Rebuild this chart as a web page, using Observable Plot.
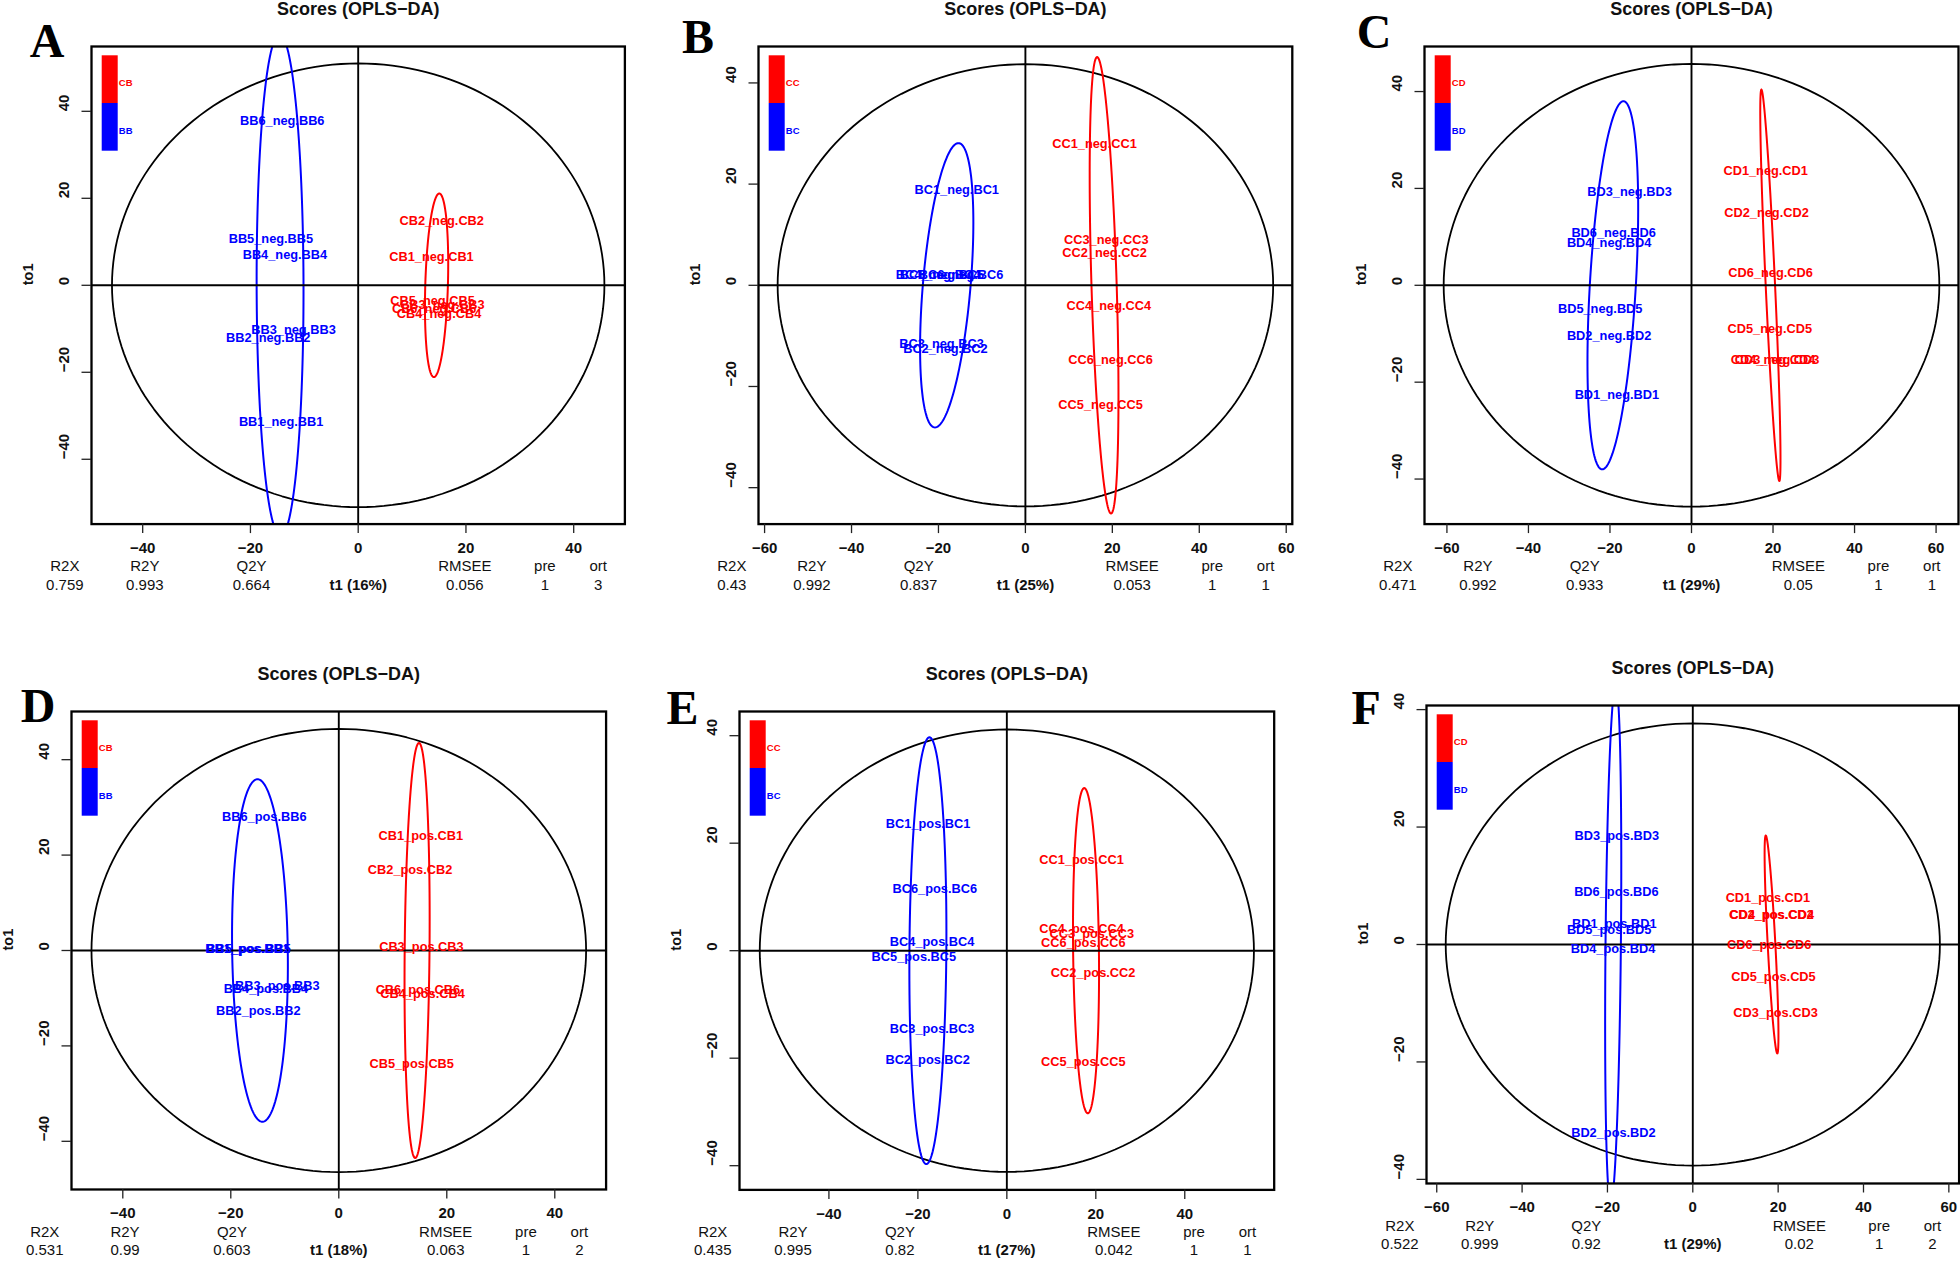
<!DOCTYPE html>
<html><head><meta charset="utf-8">
<script src="https://cdn.jsdelivr.net/npm/d3@7"></script>
<script src="https://cdn.jsdelivr.net/npm/@observablehq/plot@0.6"></script>
<style>
body{margin:0;background:#fff;}
#root{position:relative;width:1960px;height:1263px;overflow:hidden;background:#fff;}
.panel{position:absolute;}
</style></head><body><div id="root"></div>
<script>
// ---------------- DATA ----------------
const panelIds = ["A","B","C","D","E","F"];
const titleText = "Scores (OPLS\u2212DA)";
const statHeaders = ["R2X","R2Y","Q2Y","","RMSEE","pre","ort"];

// Panel A
const labelsA = ["BB1_neg.BB1","BB2_neg.BB2","BB3_neg.BB3","BB4_neg.BB4","BB5_neg.BB5","BB6_neg.BB6","CB1_neg.CB1","CB2_neg.CB2","CB3_neg.CB3","CB4_neg.CB4","CB5_neg.CB5","CB6_neg.CB6"];
const t1A  = [-14.3,-16.7,-12.0,-13.6,-16.2,-14.1, 13.6,15.5,15.6,15.0,13.8,14.1];
const to1A = [-31.4,-12.0,-10.2,6.9,10.6,37.8, 6.5,14.9,-4.4,-6.5,-3.6,-5.5];
const groupsA = ["CB","BB"];
const statsA = ["0.759","0.993","0.664","t1 (16%)","0.056","1","3"];
const xDomA = [-49.5,49.5], yDomA = [-54.9,54.9];
const xTicksA = [-40,-20,0,20,40], yTicksA = [-40,-20,0,20,40];
const ellCxA = [0,14.55,-14.5], ellUxA = [0,0.5,-0.1], ellUyA = [51.0,21.1,57.7], ellHwA = [45.7,2.1,4.35];

// Panel B
const labelsB = ["BC1_neg.BC1","BC2_neg.BC2","BC3_neg.BC3","BC4_neg.BC4","BC5_neg.BC5","BC6_neg.BC6","CC1_neg.CC1","CC2_neg.CC2","CC3_neg.CC3","CC4_neg.CC4","CC5_neg.CC5","CC6_neg.CC6"];
const t1B  = [-15.8,-18.4,-19.3,-20.1,-19.2,-14.8, 15.9,18.2,18.6,19.2,17.3,19.6];
const to1B = [18.9,-12.5,-11.5,2.0,2.1,2.0, 27.9,6.4,8.9,-4.0,-23.6,-14.7];
const groupsB = ["CC","BC"];
const statsB = ["0.43","0.992","0.837","t1 (25%)","0.053","1","1"];
const xDomB = [-61.4,61.4], yDomB = [-47.2,47.2];
const xTicksB = [-60,-40,-20,0,20,40,60], yTicksB = [-40,-20,0,20,40];
const ellCxB = [0,18.1,-18.1], ellUxB = [0,-1.6,2.7], ellUyB = [43.7,45.1,28.1], ellHwB = [57.0,2.9,5.5];

// Panel C
const labelsC = ["BD1_neg.BD1","BD2_neg.BD2","BD3_neg.BD3","BD4_neg.BD4","BD5_neg.BD5","BD6_neg.BD6","CD1_neg.CD1","CD2_neg.CD2","CD3_neg.CD3","CD4_neg.CD4","CD5_neg.CD5","CD6_neg.CD6"];
const t1C  = [-18.3,-20.2,-15.2,-20.2,-22.4,-19.1, 18.2,18.4,21.0,20.0,19.2,19.4];
const to1C = [-22.6,-10.5,19.2,8.7,-4.8,10.9, 23.6,15.0,-15.5,-15.5,-9.1,2.6];
const groupsC = ["CD","BD"];
const statsC = ["0.471","0.992","0.933","t1 (29%)","0.05","1","1"];
const xDomC = [-65.5,65.5], yDomC = [-49.3,49.3];
const xTicksC = [-60,-40,-20,0,20,40,60], yTicksC = [-40,-20,0,20,40];
const ellCxC = [0,19.35,-19.3], ellUxC = [0,-2.2,2.6], ellUyC = [45.7,40.4,38.0], ellHwC = [60.8,1.15,5.65];

// Panel D
const labelsD = ["BB1_pos.BB1","BB2_pos.BB2","BB3_pos.BB3","BB4_pos.BB4","BB5_pos.BB5","BB6_pos.BB6","CB1_pos.CB1","CB2_pos.CB2","CB3_pos.CB3","CB4_pos.CB4","CB5_pos.CB5","CB6_pos.CB6"];
const t1D  = [-16.9,-14.9,-11.4,-13.5,-16.7,-13.8, 15.2,13.2,15.3,15.5,13.5,14.65];
const to1D = [0.4,-12.7,-7.5,-8.1,0.3,28.1, 24.0,17.0,0.8,-9.2,-23.7,-8.2];
const groupsD = ["CB","BB"];
const statsD = ["0.531","0.99","0.603","t1 (18%)","0.063","1","2"];
const xDomD = [-49.5,49.5], yDomD = [-50.1,50.1];
const xTicksD = [-40,-20,0,20,40], yTicksD = [-40,-20,0,20,40];
const ellCxD = [0,14.5,-14.6], ellUxD = [0,0.35,-0.45], ellUyD = [46.45,43.5,35.9], ellHwD = [45.8,2.3,5.15];

// Panel E
const labelsE = ["BC1_pos.BC1","BC2_pos.BC2","BC3_pos.BC3","BC4_pos.BC4","BC5_pos.BC5","BC6_pos.BC6","CC1_pos.CC1","CC2_pos.CC2","CC3_pos.CC3","CC4_pos.CC4","CC5_pos.CC5","CC6_pos.CC6"];
const t1E  = [-17.7,-17.8,-16.8,-16.8,-20.9,-16.2, 16.8,19.4,19.1,16.8,17.2,17.2];
const to1E = [23.5,-20.4,-14.5,1.65,-1.1,11.5, 16.9,-4.2,3.2,4.0,-20.75,1.5];
const groupsE = ["CC","BC"];
const statsE = ["0.435","0.995","0.82","t1 (27%)","0.042","1","1"];
const xDomE = [-60.1,60.1], yDomE = [-44.5,44.5];
const xTicksE = [-40,-20,0,20,40], yTicksE = [-40,-20,0,20,40];
const ellCxE = [0,17.8,-17.75], ellUxE = [0,-0.4,0.35], ellUyE = [41.15,30.25,39.7], ellHwE = [55.55,2.9,4.15];

// Panel F
const labelsF = ["BD1_pos.BD1","BD2_pos.BD2","BD3_pos.BD3","BD4_pos.BD4","BD5_pos.BD5","BD6_pos.BD6","CD1_pos.CD1","CD2_pos.CD2","CD3_pos.CD3","CD4_pos.CD4","CD5_pos.CD5","CD6_pos.CD6"];
const t1F  = [-18.4,-18.6,-17.8,-18.7,-19.6,-17.9, 17.6,18.4,19.4,18.5,18.9,17.9];
const to1F = [3.5,-32.0,18.5,-0.7,2.5,8.9, 7.9,5.1,-11.7,5.0,-5.6,-0.1];
const groupsF = ["CD","BD"];
const statsF = ["0.522","0.999","0.92","t1 (29%)","0.02","1","2"];
const xDomF = [-62.4,62.4], yDomF = [-40.7,40.7];
const xTicksF = [-60,-40,-20,0,20,40,60], yTicksF = [-40,-20,0,20,40];
const ellCxF = [0,18.45,-18.65], ellUxF = [0,-1.35,0.58], ellUyF = [37.65,18.55,44.1], ellHwF = [57.9,0.9,1.8];

// ---------------- LAYOUT / STYLE ----------------
const RED = "#ff0000", BLUE = "#0000ff";
const SANS = "'Liberation Sans', Arial, Helvetica, sans-serif";
const SERIF = "'Liberation Serif', 'Times New Roman', Times, serif";
const frames = {
  A: {L: 91,     T: 45.7,  W: 533.4, H: 477.6, ldx: -61.7, ldy: 11},
  B: {L: 757.8,  T: 45.5,  W: 533.8, H: 477.6, ldx: -76.5, ldy: 6.7},
  C: {L: 1423.7, T: 45.5,  W: 534.0, H: 477.6, ldx: -67.7, ldy: 1.9},
  D: {L: 70.7,   T: 711,   W: 534.6, H: 478,   ldx: -50.7, ldy: 10.7},
  E: {L: 739,    T: 710.7, W: 534.7, H: 478.4, ldx: -73.1, ldy: 13},
  F: {L: 1426.1, T: 704.7, W: 532.6, H: 478,   ldx: -75.1, ldy: 18.2}
};
const statFrac = [-0.05, 0.1, 0.3, 0.5, 0.7, 0.85, 0.95];
const mL = 80, mR = 12, mT = 70, mB = 90;

const panels = {
  A: {labels: labelsA, t1: t1A, to1: to1A, groups: groupsA, stats: statsA, xDom: xDomA, yDom: yDomA, xTicks: xTicksA, yTicks: yTicksA, ell: [ellCxA, ellUxA, ellUyA, ellHwA]},
  B: {labels: labelsB, t1: t1B, to1: to1B, groups: groupsB, stats: statsB, xDom: xDomB, yDom: yDomB, xTicks: xTicksB, yTicks: yTicksB, ell: [ellCxB, ellUxB, ellUyB, ellHwB]},
  C: {labels: labelsC, t1: t1C, to1: to1C, groups: groupsC, stats: statsC, xDom: xDomC, yDom: yDomC, xTicks: xTicksC, yTicks: yTicksC, ell: [ellCxC, ellUxC, ellUyC, ellHwC]},
  D: {labels: labelsD, t1: t1D, to1: to1D, groups: groupsD, stats: statsD, xDom: xDomD, yDom: yDomD, xTicks: xTicksD, yTicks: yTicksD, ell: [ellCxD, ellUxD, ellUyD, ellHwD]},
  E: {labels: labelsE, t1: t1E, to1: to1E, groups: groupsE, stats: statsE, xDom: xDomE, yDom: yDomE, xTicks: xTicksE, yTicks: yTicksE, ell: [ellCxE, ellUxE, ellUyE, ellHwE]},
  F: {labels: labelsF, t1: t1F, to1: to1F, groups: groupsF, stats: statsF, xDom: xDomF, yDom: yDomF, xTicks: xTicksF, yTicks: yTicksF, ell: [ellCxF, ellUxF, ellUyF, ellHwF]}
};

// ellipse outline from center, top-point offset (conjugate semi-diameter) and half-width at center height
function ellipseOutline(cx, ux, uy, hw) {
  return d3.range(0, 361, 2).map(a => {
    const t = a * Math.PI / 180;
    return {x: cx + ux * Math.cos(t) + hw * Math.sin(t), y: uy * Math.cos(t)};
  });
}
const fmt = v => v < 0 ? "\u2212" + Math.abs(v) : String(v);

const root = document.getElementById("root");
for (const id of panelIds) {
  const p = panels[id], f = frames[id];
  const pts = p.labels.map((label, i) => ({label, t1: p.t1[i], to1: p.to1[i], grp: label.slice(0, 2)}));
  const redPts = pts.filter(d => d.grp === p.groups[0]);
  const bluePts = pts.filter(d => d.grp === p.groups[1]);
  const [cxs, uxs, uys, hws] = p.ell;
  const ellColors = ["#000000", RED, BLUE];
  const ellWidths = [1.8, 2, 2];
  const statX = (d, i) => p.xDom[0] + statFrac[i] * (p.xDom[1] - p.xDom[0]);
  const statItems = p.stats.map((s, i) => ({s, i}));

  const marks = [];
  cxs.forEach((cx, k) => {
    marks.push(Plot.line(ellipseOutline(cx, uxs[k], uys[k], hws[k]), {x: "x", y: "y", stroke: ellColors[k], strokeWidth: ellWidths[k], clip: true}));
  });
  marks.push(
    Plot.ruleX([0], {stroke: "#000", strokeWidth: 1.9}),
    Plot.ruleY([0], {stroke: "#000", strokeWidth: 1.9}),
    Plot.text(bluePts, {x: "t1", y: "to1", text: "label", fill: BLUE, fontWeight: "bold", fontSize: 12.8}),
    Plot.text(redPts, {x: "t1", y: "to1", text: "label", fill: RED, fontWeight: "bold", fontSize: 12.8}),
    Plot.frame({stroke: "#000", strokeWidth: 2.3}),
    Plot.axisX(p.xTicks, {tickSize: 9.5, tickFormat: () => "", label: null, stroke: "#222", strokeWidth: 1.3}),
    Plot.axisY(p.yTicks, {tickSize: 9.5, tickFormat: () => "", label: null, stroke: "#222", strokeWidth: 1.3}),
    Plot.text(p.xTicks, {x: d => d, text: fmt, frameAnchor: "bottom", dy: 29, fontSize: 15, fontWeight: "bold", fill: "#111"}),
    Plot.text(p.yTicks, {y: d => d, text: fmt, frameAnchor: "left", dx: -27.5, rotate: -90, fontSize: 15, fontWeight: "bold", fill: "#111"}),
    Plot.text(["to1"], {text: d => d, frameAnchor: "left", dx: -63.5, rotate: -90, fontSize: 14.5, fontWeight: "bold", fill: "#111"}),
    Plot.text([titleText], {text: d => d, frameAnchor: "top", dy: -31.4, lineAnchor: "bottom", fontSize: 18, fontWeight: "bold", fill: "#111"}),
    Plot.text([id], {text: d => d, frameAnchor: "top-left", dx: f.ldx, dy: f.ldy, lineAnchor: "bottom", textAnchor: "start", fontFamily: SERIF, fontSize: 48, fontWeight: "bold", fill: "#000"}),
    Plot.text(statHeaders, {x: statX, text: d => d, frameAnchor: "bottom", dy: 47.3, fontSize: 15, fill: "#111"}),
    Plot.text(statItems.filter(d => d.i !== 3), {x: d => statX(d, d.i), text: "s", frameAnchor: "bottom", dy: 65.5, fontSize: 15, fill: "#111"}),
    Plot.text(statItems.filter(d => d.i === 3), {x: d => statX(d, d.i), text: "s", frameAnchor: "bottom", dy: 65.5, fontSize: 15, fontWeight: "bold", fill: "#111"}),
    Plot.text([p.groups[0]], {text: d => d, frameAnchor: "top-left", dx: 27.3, dy: 33.2, textAnchor: "start", fontSize: 9.5, fontWeight: "bold", fill: RED}),
    Plot.text([p.groups[1]], {text: d => d, frameAnchor: "top-left", dx: 27.3, dy: 80.9, textAnchor: "start", fontSize: 9.5, fontWeight: "bold", fill: BLUE})
  );

  const chart = Plot.plot({
    width: f.W + mL + mR,
    height: f.H + mT + mB,
    marginLeft: mL, marginRight: mR, marginTop: mT, marginBottom: mB,
    x: {domain: p.xDom, axis: null, label: null},
    y: {domain: p.yDom, axis: null, label: null},
    style: {fontFamily: SANS, overflow: "visible", maxWidth: "none", background: "transparent"},
    marks
  });
  // colour-bar legend (top-left of frame)
  const svg = d3.select(chart);
  svg.append("rect").attr("x", mL + 10.7).attr("y", mT + 9.3).attr("width", 16).attr("height", 47.7).attr("fill", RED);
  svg.append("rect").attr("x", mL + 10.7).attr("y", mT + 9.3 + 47.7).attr("width", 16).attr("height", 47.7).attr("fill", BLUE);

  const div = document.createElement("div");
  div.className = "panel";
  div.style.left = (f.L - mL) + "px";
  div.style.top = (f.T - mT) + "px";
  div.style.width = (f.W + mL + mR) + "px";
  div.appendChild(chart);
  root.appendChild(div);
}
</script></body></html>
